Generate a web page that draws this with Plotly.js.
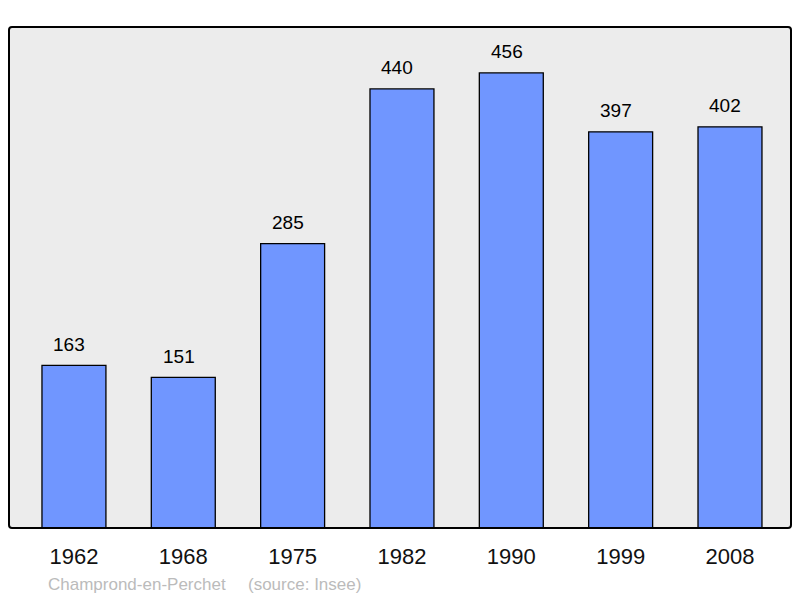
<!DOCTYPE html>
<html><head><meta charset="utf-8">
<script src="https://cdn.plot.ly/plotly-3.0.1.min.js"></script>
<style>html,body{margin:0;padding:0;background:#fff;}#chart{width:800px;height:598px;}</style>
</head><body><div id="chart"></div>
<script>
const years = ["1962","1968","1975","1982","1990","1999","2008"];
const population = [163,151,285,440,456,397,402];
const sourceName = "Champrond-en-Perchet";
const sourceRef = "(source: Insee)";

const W = 800, H = 598;
const mL = 9, mR = 9, mT = 27, mB = 70;
const pw = W-mL-mR, ph = H-mT-mB;
const rx = 3/pw, ry = 3/ph;
const border = `M ${rx},0 L ${1-rx},0 Q 1,0 1,${ry} L 1,${1-ry} Q 1,1 ${1-rx},1 L ${rx},1 Q 0,1 0,${1-ry} L 0,${ry} Q 0,0 ${rx},0 Z`;
const FONT = 'Liberation Sans, Arial, sans-serif';

const trace = {
  type: 'bar',
  x: years,
  y: population,
  width: 0.585,
  marker: {color: '#7096ff', line: {color: '#000', width: 1.3}},
  hoverinfo: 'none'
};

const annotations = population.map((v, i) => ({
  x: i, y: v, xref: 'x', yref: 'y',
  text: String(v), showarrow: false,
  xanchor: 'center', yanchor: 'middle', yshift: 21, xshift: -4.5,
  font: {family: FONT, size: 19, color: '#000'}
}));
annotations.push(
  {
    xref: 'paper', yref: 'paper', x: 36.5/pw, y: -(584.5-528.5)/ph,
    xanchor: 'left', yanchor: 'middle', showarrow: false,
    text: sourceName,
    font: {family: FONT, size: 17, color: '#bbbbbb'}
  },
  {
    xref: 'paper', yref: 'paper', x: 237/pw, y: -(584.5-528.5)/ph,
    xanchor: 'left', yanchor: 'middle', showarrow: false,
    text: sourceRef,
    font: {family: FONT, size: 17, color: '#bbbbbb'}
  }
);

const layout = {
  width: W, height: H,
  margin: {l: mL, r: mR, t: mT, b: mB},
  paper_bgcolor: '#ffffff',
  plot_bgcolor: '#ececec',
  showlegend: false,
  xaxis: {
    type: 'category', range: [-0.594, 6.558],
    showgrid: false, zeroline: false, showline: false, ticks: '',
    ticklabelstandoff: 13,
    tickfont: {family: FONT, size: 22, color: '#111'},
    fixedrange: true
  },
  yaxis: {
    range: [0, 502], showgrid: false, zeroline: false, showline: false,
    showticklabels: false, ticks: '', fixedrange: true
  },
  shapes: [{
    type: 'path', xref: 'paper', yref: 'paper', path: border,
    line: {color: '#000', width: 2}, fillcolor: 'rgba(0,0,0,0)', layer: 'above'
  }],
  annotations: annotations
};

Plotly.newPlot('chart', [trace], layout, {staticPlot: true, displayModeBar: false});
</script></body></html>
